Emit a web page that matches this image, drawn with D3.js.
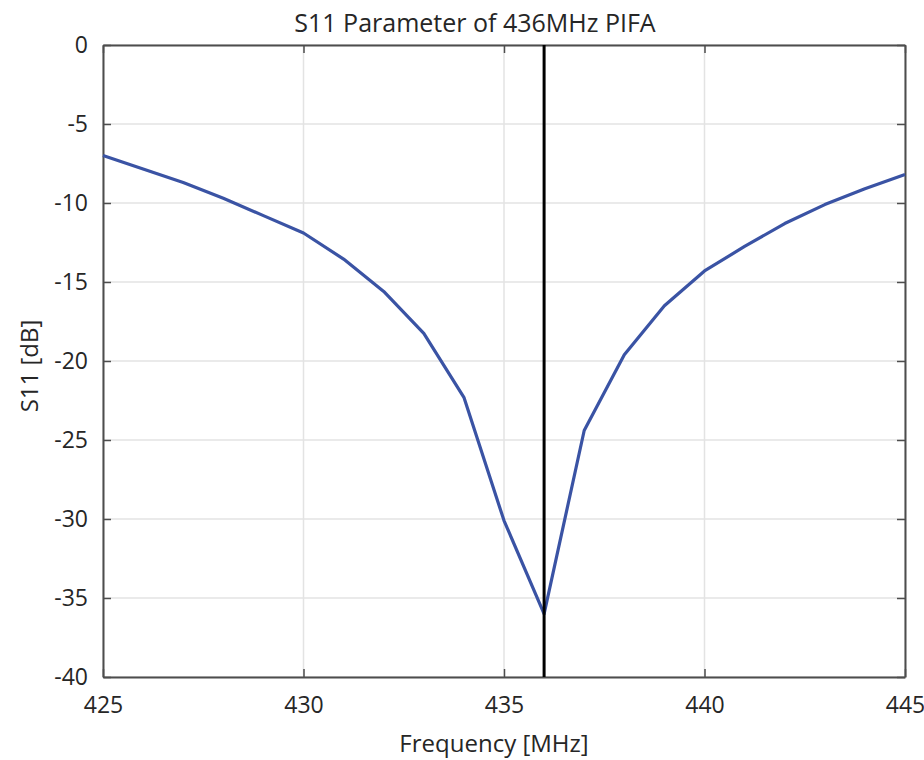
<!DOCTYPE html>
<html><head><meta charset="utf-8">
<script src="https://cdn.jsdelivr.net/npm/d3@7"></script>
<style>
body{margin:0;background:#fff;}
text{font-family:"Open Sans","DejaVu Sans",sans-serif;fill:#262626;}
</style></head>
<body>
<svg id="chart" width="924" height="760"></svg>
<script>
const freqs = [425,426,427,428,429,430,431,432,433,434,435,436,437,438,439,440,441,442,443,444,445];
const s11 = [-7.0,-7.85,-8.7,-9.7,-10.8,-11.9,-13.55,-15.6,-18.25,-22.3,-30.1,-36.0,-24.4,-19.6,-16.5,-14.3,-12.75,-11.3,-10.1,-9.1,-8.2];
const xTicks = [425,430,435,440,445];
const yTicks = [0,-5,-10,-15,-20,-25,-30,-35,-40];
const markerFreq = [436];
const titleText = "S11 Parameter of 436MHz PIFA";
const xLabel = "Frequency [MHz]";
const yLabel = "S11 [dB]";

const m = {left:103, right:905, top:45, bottom:677};
const svg = d3.select("#chart");
const x = d3.scaleLinear().domain([425,445]).range([m.left,m.right]);
const y = d3.scaleLinear().domain([-40,0]).range([m.bottom,m.top]);
const fmt = d => String(d);

// grid
svg.append("g").selectAll("line").data(xTicks).join("line")
  .attr("x1",d=>x(d)).attr("x2",d=>x(d)).attr("y1",m.top).attr("y2",m.bottom)
  .attr("stroke","#e3e3e3").attr("stroke-width",1.5);
svg.append("g").selectAll("line").data(yTicks).join("line")
  .attr("y1",d=>y(d)).attr("y2",d=>y(d)).attr("x1",m.left).attr("x2",m.right)
  .attr("stroke","#e3e3e3").attr("stroke-width",1.5);

// axes
const tl = 8;
const axB = svg.append("g").attr("transform",`translate(0,${m.bottom})`)
  .call(d3.axisBottom(x).tickValues(xTicks).tickFormat(fmt).tickSizeInner(-tl).tickSizeOuter(0).tickPadding(20));
const axT = svg.append("g").attr("transform",`translate(0,${m.top})`)
  .call(d3.axisTop(x).tickValues(xTicks).tickSizeInner(-tl).tickSizeOuter(0).tickFormat(""));
const axL = svg.append("g").attr("transform",`translate(${m.left},0)`)
  .call(d3.axisLeft(y).tickValues(yTicks).tickFormat(fmt).tickSizeInner(-tl).tickSizeOuter(0).tickPadding(15));
const axR = svg.append("g").attr("transform",`translate(${m.right},0)`)
  .call(d3.axisRight(y).tickValues(yTicks).tickSizeInner(-tl).tickSizeOuter(0).tickFormat(""));
[axB,axT,axL,axR].forEach(a=>{
  a.select(".domain").attr("stroke","#4d4d4d").attr("stroke-width",2);
  a.selectAll(".tick line").attr("stroke","#4d4d4d").attr("stroke-width",1.5);
  a.selectAll("text").attr("font-size",23).attr("fill","#262626")
   .style("font-family",'"Open Sans","DejaVu Sans",sans-serif');
});
axB.selectAll("text").attr("dy","0.71em");

// curve
svg.append("path").datum(freqs.map((f,i)=>[f,s11[i]]))
  .attr("fill","none").attr("stroke","#3a53a4").attr("stroke-width",3.2)
  .attr("stroke-linejoin","round")
  .attr("d",d3.line().x(d=>x(d[0])).y(d=>y(d[1])));

// marker line
svg.append("g").selectAll("line").data(markerFreq).join("line")
  .attr("x1",d=>x(d)).attr("x2",d=>x(d)).attr("y1",m.top).attr("y2",m.bottom)
  .attr("stroke","#000").attr("stroke-width",3);

// labels
svg.append("text").attr("x",475).attr("y",32).attr("text-anchor","middle")
  .attr("font-size",25).text(titleText);
svg.append("text").attr("x",494).attr("y",752).attr("text-anchor","middle")
  .attr("font-size",24).text(xLabel);
svg.append("text").attr("transform","translate(38,366) rotate(-90)").attr("text-anchor","middle")
  .attr("font-size",24).text(yLabel);
</script>
</body></html>
